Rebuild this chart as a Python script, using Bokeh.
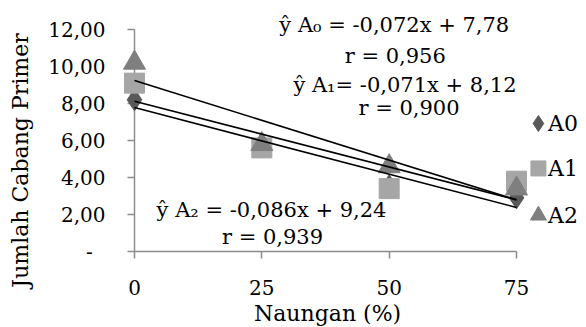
import math
from bokeh.plotting import figure
from bokeh.models import Range1d, FixedTicker
from bokeh.core.properties import value
from bokeh.embed import file_html
from bokeh.resources import INLINE

# ---- data ----
naungan = [0, 25, 50, 75]
a0 = [8.2, 5.65, 3.55, 2.9]
a1 = [9.1, 5.6, 3.4, 3.8]
a2 = [10.2, 5.8, 4.6, 3.4]

# regression (slope, intercept)
reg_a0 = (-0.072, 7.78)
reg_a1 = (-0.071, 8.12)
reg_a2 = (-0.086, 9.24)

eq_texts = [
    "ŷ A\u2080 = -0,072x + 7,78", "r = 0,956",
    "ŷ A\u2081= -0,071x + 8,12", "r = 0,900",
    "ŷ A\u2082 = -0,086x + 9,24", "r = 0,939",
]

x_ticks = [0, 25, 50, 75]
x_tick_labels = ["0", "25", "50", "75"]
y_ticks = [0, 2, 4, 6, 8, 10, 12]
y_tick_labels = ["-\u00a0\u00a0", "2,00", "4,00", "6,00", "8,00", "10,00", "12,00"]
series_names = ["A0", "A1", "A2"]
x_title = "Naungan (%)"
y_title = "Jumlah Cabang Primer"

FONT = "DejaVu Serif"
AXIS_GREY = "#8c8c8c"
C_A0, C_A1, C_A2 = "#595959", "#a6a6a6", "#7f7f7f"

# frame spans the canvas to the right and top; axes are bounded to the data extent
p = figure(width=586, height=327, output_backend="svg", toolbar_location=None,
           x_range=Range1d(0, 88.74), y_range=Range1d(0, 13.568),
           min_border_left=134, min_border_right=0, min_border_top=0, min_border_bottom=76)
p.outline_line_color = None
p.grid.visible = False
p.background_fill_color = "white"

p.axis.axis_line_color = AXIS_GREY
p.axis.axis_line_width = 1.5
p.axis.major_tick_line_color = AXIS_GREY
p.axis.major_tick_line_width = 1.5
p.axis.major_tick_in = 0
p.axis.major_tick_out = 7
p.axis.minor_tick_line_color = None
p.xaxis.bounds = (0, 75)
p.yaxis.bounds = (0, 12)
p.xaxis.ticker = FixedTicker(ticks=x_ticks)
p.yaxis.ticker = FixedTicker(ticks=y_ticks)
p.xaxis.major_label_overrides = {t: "" for t in x_ticks}
p.yaxis.major_label_overrides = {t: "" for t in y_ticks}

# tick labels and axis titles drawn as text in data coordinates
p.text(x=x_ticks, y=[-1.92] * len(x_ticks), text=x_tick_labels, text_font=value(FONT),
       text_font_size="20px", text_align="center", text_baseline="alphabetic",
       text_color="black", level="overlay")
p.text(x=[-5.69] * len(y_ticks), y=y_ticks, text=y_tick_labels, text_font=value(FONT),
       text_font_size="20px", text_align="right", text_baseline="alphabetic",
       text_color="black", level="overlay")
p.text(x=[37.9], y=[-3.35], text=[x_title], text_font=value(FONT), text_font_size="22px",
       text_align="center", text_baseline="alphabetic", text_color="black", level="overlay")
p.text(x=[-22.4], y=[4.92], text=[y_title], angle=math.pi / 2, text_font=value(FONT),
       text_font_size="22px", text_align="center", text_baseline="alphabetic",
       text_color="black", level="overlay")

r0 = p.scatter(naungan, a0, marker="diamond", size=22, fill_color=C_A0, line_color=C_A0, level="overlay")
r1 = p.scatter(naungan, a1, marker="square", size=20, fill_color=C_A1, line_color=C_A1, level="overlay")
r2 = p.scatter(naungan, a2, marker="triangle", size=22, fill_color=C_A2, line_color=C_A2, level="overlay")

xs = [naungan[0], naungan[-1]]
for m, b in (reg_a0, reg_a1, reg_a2):
    p.line(xs, [m * x + b for x in xs], line_color="black", line_width=1.6, level="overlay")

# regression equation texts
eq_x = [51.0, 51.2, 53.1, 53.9, 26.9, 27.1]
eq_y = [12.25, 10.57, 9.0, 7.76, 2.27, 0.78]
p.text(x=eq_x, y=eq_y, text=eq_texts, text_font=value(FONT), text_font_size="21px",
       text_align="center", text_baseline="alphabetic", text_color="black", level="overlay")

# legend
leg_mx = 79.3
leg_my = [6.92, 4.49, 1.95]
p.scatter([leg_mx], leg_my[0:1], marker="diamond", size=16, fill_color=C_A0, line_color=C_A0, level="overlay")
p.scatter([leg_mx], leg_my[1:2], marker="square", size=15, fill_color=C_A1, line_color=C_A1, level="overlay")
p.scatter([leg_mx], leg_my[2:3], marker="triangle", size=16, fill_color=C_A2, line_color=C_A2, level="overlay")
p.text(x=[81.2] * 3, y=leg_my, text=series_names, text_font=value(FONT), text_font_size="22px",
       text_align="left", text_baseline="alphabetic", text_color="black", level="overlay")

open("out.html", "w").write(file_html(p, INLINE))
